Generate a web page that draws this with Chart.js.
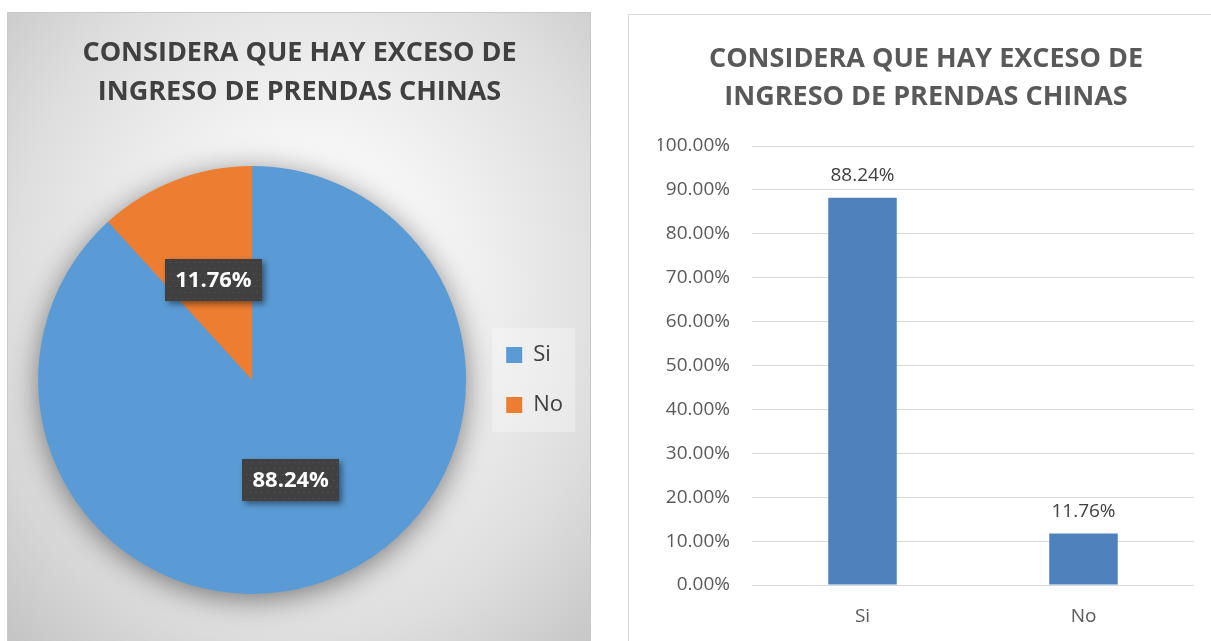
<!DOCTYPE html>
<html lang="es">
<head>
<meta charset="UTF-8">
<title>Exceso de ingreso de prendas chinas</title>
<script src="https://cdn.jsdelivr.net/npm/chart.js"></script>
<style>
    body {
        margin: 0;
        width: 1211px;
        height: 641px;
        overflow: hidden;
        position: relative;
        background: #fff;
        font-family: "Open Sans", sans-serif;
    }

    #piePanel {
        position: absolute;
        left: 7px;
        top: 12px;
        width: 584px;
        height: 629px;
        box-sizing: border-box;
        border: 1px solid #c8c8c8;
        border-bottom: none;
        background: radial-gradient(farthest-corner at 52% 44%, #ffffff 0%, #f5f5f5 30%, #dedede 70%, #c4c4c4 100%);
    }

    #barPanel {
        position: absolute;
        left: 628px;
        top: 14px;
        width: 583px;
        height: 627px;
        box-sizing: border-box;
        border: 1px solid #d9d9d9;
        border-right: none;
        border-bottom: none;
        background: #fff;
    }

    canvas { position: absolute; left: 0; top: 0; }
</style>
</head>
<body>
<div id="piePanel"><canvas id="pieChart" width="582" height="628"></canvas></div>
<div id="barPanel"><canvas id="barChart" width="582" height="626"></canvas></div>

<script>
    // data
    const categories = ['Si', 'No'];
    const percentages = [88.24, 11.76];
    const titleLines = ['CONSIDERA QUE HAY EXCESO DE', 'INGRESO DE PRENDAS CHINAS'];
    const yMin = 0;
    const yMax = 100;
    const yStep = 10;

    const FONT = '"Open Sans", sans-serif';
    const pct = v => Number(v).toFixed(2) + '%';

    // soft shadow under the whole pie
    const pieShadow = {
        id: 'pieShadow',
        beforeDatasetsDraw(chart) {
            const arc = chart.getDatasetMeta(0).data[0];
            if (!arc) return;
            const ctx = chart.ctx;
            ctx.save();
            ctx.shadowColor = 'rgba(0,0,0,0.5)';
            ctx.shadowBlur = 30;
            ctx.shadowOffsetY = 5;
            ctx.fillStyle = '#5b9bd5';
            ctx.beginPath();
            ctx.arc(arc.x, arc.y, arc.outerRadius - 1, 0, Math.PI * 2);
            ctx.fill();
            ctx.restore();
        }
    };

    // dark label boxes on the slices
    const pieLabels = {
        id: 'pieLabels',
        afterDatasetsDraw(chart) {
            const ctx = chart.ctx;
            const values = chart.data.datasets[0].data;
            chart.getDatasetMeta(0).data.forEach((arc, i) => {
                const p = arc.getCenterPoint();
                const w = 97, h = 42;
                const x = Math.round(p.x - w / 2), y = Math.round(p.y - h / 2);
                ctx.save();
                ctx.shadowColor = 'rgba(0,0,0,0.45)';
                ctx.shadowBlur = 6;
                ctx.shadowOffsetX = 3;
                ctx.shadowOffsetY = 3;
                ctx.fillStyle = '#404040';
                ctx.fillRect(x, y, w, h);
                ctx.restore();
                // dotted texture
                ctx.save();
                ctx.fillStyle = '#5a5a5a';
                for (let dy = 3; dy < h; dy += 6) {
                    for (let dx = 3 + ((dy / 6) % 2) * 3; dx < w; dx += 6) {
                        ctx.fillRect(x + dx, y + dy, 1, 1);
                    }
                }
                ctx.fillStyle = '#ffffff';
                ctx.font = 'bold 22px ' + FONT;
                ctx.textAlign = 'center';
                ctx.textBaseline = 'middle';
                ctx.fillText(pct(values[i]), p.x, p.y + 1);
                ctx.restore();
            });
        }
    };

    // faint panel behind the legend
    const legendPanel = {
        id: 'legendPanel',
        beforeDraw(chart) {
            const boxes = chart.legend && chart.legend.legendHitBoxes;
            if (!boxes || !boxes.length) return;
            let l = Infinity, t = Infinity, r = -Infinity, b = -Infinity;
            boxes.forEach(hb => {
                l = Math.min(l, hb.left);
                t = Math.min(t, hb.top);
                r = Math.max(r, hb.left + hb.width);
                b = Math.max(b, hb.top + hb.height);
            });
            const ctx = chart.ctx;
            ctx.save();
            ctx.fillStyle = 'rgba(255,255,255,0.3)';
            ctx.fillRect(l - 14, t - 16, r - l + 26, b - t + 32);
            ctx.restore();
        }
    };

    // value labels above the bars
    const barLabels = {
        id: 'barLabels',
        afterDatasetsDraw(chart) {
            const ctx = chart.ctx;
            const values = chart.data.datasets[0].data;
            ctx.save();
            ctx.fillStyle = '#404040';
            ctx.font = '19px ' + FONT;
            ctx.textAlign = 'center';
            ctx.textBaseline = 'middle';
            chart.getDatasetMeta(0).data.forEach((bar, i) => {
                ctx.fillText(pct(values[i]), bar.x, bar.y - 22);
            });
            ctx.restore();
        }
    };

    new Chart(document.getElementById('pieChart'), {
        type: 'pie',
        data: {
            labels: categories,
            datasets: [{
                data: percentages,
                backgroundColor: ['#5b9bd5', '#ed7d31'],
                borderWidth: 0,
                radius: 214
            }]
        },
        options: {
            responsive: false,
            animation: false,
            layout: { padding: { left: 18, right: 17, top: 0, bottom: 0 } },
            plugins: {
                tooltip: { enabled: false },
                title: {
                    display: true,
                    text: titleLines,
                    color: '#404040',
                    font: { family: FONT, size: 27, weight: 'bold', lineHeight: 1.444 },
                    padding: { top: 20.5, bottom: 7.5 }
                },
                legend: {
                    position: 'right',
                    fullSize: false,
                    labels: {
                        boxWidth: 16,
                        boxHeight: 16,
                        padding: 28,
                        color: '#404040',
                        font: { family: FONT, size: 22 }
                    }
                }
            }
        },
        plugins: [legendPanel, pieShadow, pieLabels]
    });

    new Chart(document.getElementById('barChart'), {
        type: 'bar',
        data: {
            labels: categories,
            datasets: [{
                data: percentages,
                backgroundColor: '#4f81bd',
                borderWidth: 0,
                barPercentage: 0.31,
                categoryPercentage: 1
            }]
        },
        options: {
            responsive: false,
            animation: false,
            layout: { padding: { left: 29, right: 17, top: 0, bottom: 0 } },
            plugins: {
                legend: { display: false },
                tooltip: { enabled: false },
                title: {
                    display: true,
                    text: titleLines,
                    color: '#595959',
                    font: { family: FONT, size: 27, weight: 'bold', lineHeight: 1.39 },
                    padding: { top: 26, bottom: 30 }
                }
            },
            scales: {
                x: {
                    grid: { display: false, drawTicks: false },
                    border: { display: false },
                    ticks: { color: '#595959', font: { family: FONT, size: 19 }, padding: 20 },
                    afterFit: s => { s.height = 56; }
                },
                y: {
                    min: yMin,
                    max: yMax,
                    grid: { color: '#d9d9d9', lineWidth: 1, drawTicks: false },
                    border: { display: false },
                    ticks: {
                        stepSize: yStep,
                        color: '#595959',
                        font: { family: FONT, size: 19 },
                        padding: 22,
                        callback: v => pct(v)
                    },
                    afterFit: s => { s.width = 94; }
                }
            }
        },
        plugins: [barLabels]
    });
</script>
</body>
</html>
